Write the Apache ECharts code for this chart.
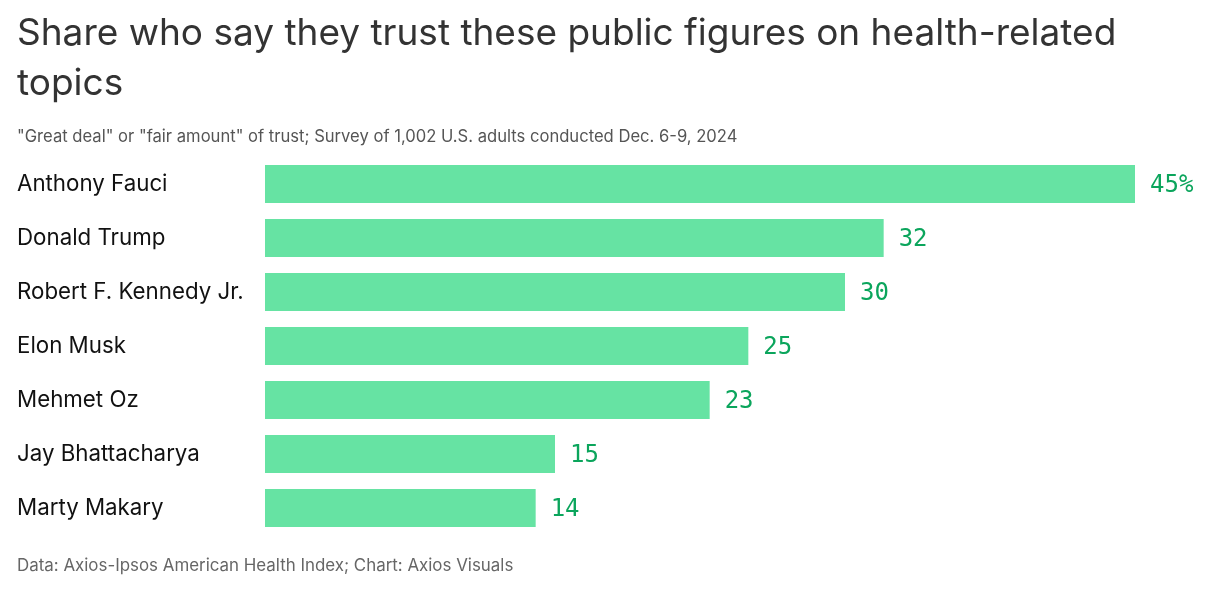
<!DOCTYPE html>
<html>
<head>
<meta charset="utf-8">
<script src="https://cdn.jsdelivr.net/npm/echarts@6/dist/echarts.min.js"></script>
<style>
html,body{margin:0;padding:0;background:#fff;}
#chart{width:1219px;height:597px;}
</style>
</head>
<body>
<div id="chart"></div>
<script>
var categories = ["Anthony Fauci","Donald Trump","Robert F. Kennedy Jr.","Elon Musk","Mehmet Oz","Jay Bhattacharya","Marty Makary"];
var values = [45,32,30,25,23,15,14];

var chart = echarts.init(document.getElementById('chart'));
chart.setOption({
  animation:false,
  title:[
    {text:"Share who say they trust these public figures on health-related\ntopics", left:17, top:9, padding:0,
     textStyle:{fontFamily:"Inter", fontSize:37, fontWeight:"normal", color:"#333", lineHeight:50}},
    {text:"\"Great deal\" or \"fair amount\" of trust; Survey of 1,002 U.S. adults conducted Dec. 6-9, 2024", left:17, top:128, padding:0,
     textStyle:{fontFamily:"Inter", fontSize:16.6, fontWeight:"normal", color:"#555"}},
    {text:"Data: Axios-Ipsos American Health Index; Chart: Axios Visuals", left:17, top:557, padding:0,
     textStyle:{fontFamily:"Inter", fontSize:16.9, fontWeight:"normal", color:"#666"}}
  ],
  grid:{left:265, right:84, top:157, bottom:62, containLabel:false},
  xAxis:{type:"value", min:0, max:45, show:false},
  yAxis:{type:"category", data:categories, inverse:true,
    axisLine:{show:false}, axisTick:{show:false},
    axisLabel:{align:"left", margin:248, fontFamily:"Inter", fontSize:22.3, color:"#111"}},
  series:[{
    type:"bar", data:values, barCategoryGap:"29.6%",
    itemStyle:{color:"#66e3a3"},
    label:{show:true, position:"right", distance:15, offset:[0,2], fontFamily:"DejaVu Sans Mono", fontSize:24, color:"#0ba55c",
      formatter:function(p){return p.dataIndex===0 ? p.value+"%" : String(p.value);}}
  }]
});
</script>
</body>
</html>
